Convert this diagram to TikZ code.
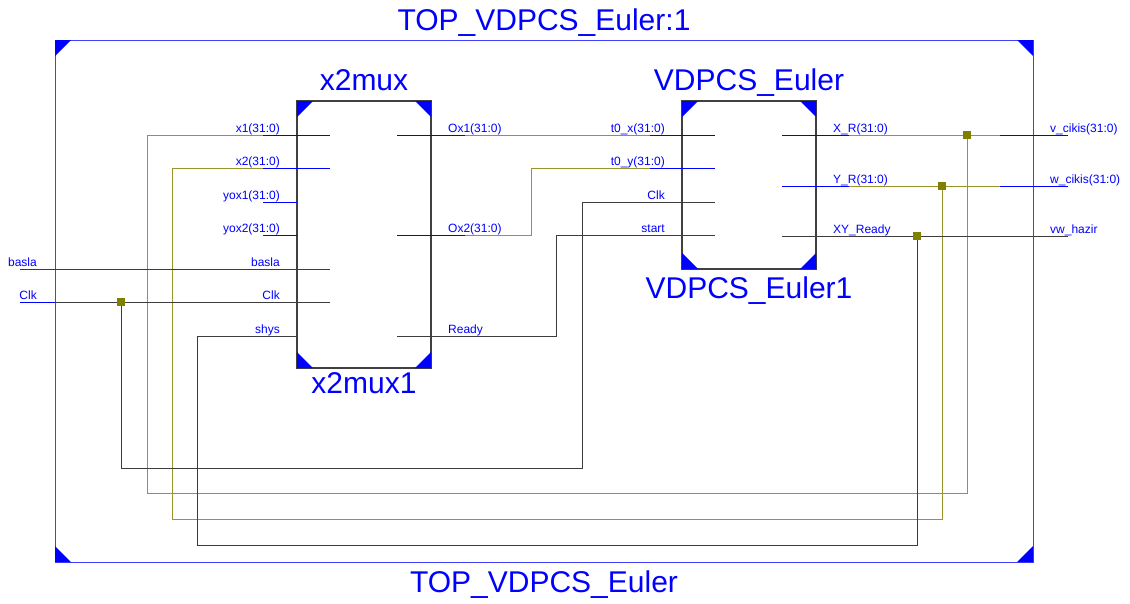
\documentclass[tikz,border=0pt]{standalone}
\usepackage{fontspec}
\setmainfont{Liberation Sans}

\definecolor{schblue}{RGB}{0,0,255}
\definecolor{busolive}{RGB}{150,150,45}
\definecolor{dotolive}{RGB}{128,128,0}
\definecolor{netgray}{RGB}{60,60,60}

\newcommand{\pinfont}{\fontsize{12}{14}\selectfont}
\newcommand{\titlefont}{\fontsize{30}{34}\selectfont}

% 角の三角マーク
\newcommand{\cornermarks}[1]{%
  \fill[schblue] (#1.north west) -- ++(16,0) -- ++(-16,16) -- cycle;
  \fill[schblue] (#1.north east) -- ++(-16,0) -- ++(16,16) -- cycle;
  \fill[schblue] (#1.south west) -- ++(16,0) -- ++(-16,-16) -- cycle;
  \fill[schblue] (#1.south east) -- ++(-16,0) -- ++(16,-16) -- cycle;
}

\tikzset{
  frame/.style={draw=schblue!75, line width=1pt, inner sep=0pt, outer sep=0pt},
  blk/.style={draw=black!75, line width=1.1pt, inner sep=0pt, outer sep=0pt},
  title/.style={font=\titlefont, text=schblue, inner sep=0pt, anchor=base},
  pinlbl/.style={font=\pinfont, text=schblue, inner sep=0pt},
  stub/.style={schblue, line width=1pt},
  bus/.style={busolive, line width=1pt},
  sig/.style={netgray, line width=1pt},
  dot/.style={fill=dotolive, inner sep=0pt, minimum size=8pt},
}

\begin{document}
\begin{tikzpicture}[x=1pt, y=-1pt]
  \useasboundingbox (0,0) rectangle (1130,603);

  % 1. 外枠 TOP_VDPCS_Euler
  \node[frame, minimum width=978pt, minimum height=522pt] (top) at (544,301) {};
  \cornermarks{top}
  \node[title] (toptitle) at (544,30) {TOP\_VDPCS\_Euler:1};
  \node[title] (topname)  at (544,592) {TOP\_VDPCS\_Euler};

  % 2. ブロック x2mux と VDPCS_Euler
  \node[blk, minimum width=134pt, minimum height=267pt] (mux) at (364,234.5) {};
  \node[blk, minimum width=134pt, minimum height=168pt] (vdp) at (749,185) {};
  \cornermarks{mux}
  \cornermarks{vdp}
  \node[title] (muxtype) at (364,90)  {x2mux};
  \node[title] (muxinst) at (364,393) {x2mux1};
  \node[title] (vdptype) at (749,90)  {VDPCS\_Euler};
  \node[title] (vdpinst) at (749,298) {VDPCS\_Euler1};

  % 3. ピンの座標
  % x2mux 左側
  \coordinate (x1o)    at (263,135); \coordinate (x1i)    at (330,135);
  \coordinate (x2o)    at (263,168); \coordinate (x2i)    at (330,168);
  \coordinate (yox1o)  at (263,202); \coordinate (yox1e)  at (297,202);
  \coordinate (yox2o)  at (263,235); \coordinate (yox2e)  at (297,235);
  \coordinate (baslai) at (330,269);
  \coordinate (clki)   at (330,302);
  \coordinate (shyse)  at (297,336);
  % x2mux 右側
  \coordinate (ox1i) at (397,135); \coordinate (ox1o) at (465,135);
  \coordinate (ox2i) at (397,235); \coordinate (ox2o) at (465,235);
  \coordinate (rdyi) at (397,336);
  % VDPCS_Euler 左側
  \coordinate (t0xo) at (650,135); \coordinate (t0xi) at (715,135);
  \coordinate (t0yo) at (650,168); \coordinate (t0yi) at (715,168);
  \coordinate (vclki)  at (715,202);
  \coordinate (starti) at (715,235);
  % VDPCS_Euler 右側
  \coordinate (xri)  at (782,135); \coordinate (xro) at (849,135);
  \coordinate (yri)  at (782,186); \coordinate (yro) at (849,186);
  \coordinate (xyri) at (782,236);
  % 外部ポート
  \coordinate (basla) at (20,269);
  \coordinate (clk)   at (20,302);  \coordinate (clkf)  at (55,302);
  \coordinate (vcik)  at (1068,135); \coordinate (vciko) at (1000,135);
  \coordinate (wcik)  at (1068,186); \coordinate (wciko) at (1000,186);
  \coordinate (vwh)   at (1068,236);
  % 分岐点と折れ点
  \coordinate (jx) at (967,135);
  \coordinate (jy) at (942,186);
  \coordinate (jr) at (917,236);
  \coordinate (jc) at (121,302);
  \coordinate (bx1) at (147,493);
  \coordinate (bx2) at (172,519);
  \coordinate (bsh) at (197,545);
  \coordinate (bck) at (121,468);
  \coordinate (vclko) at (582,202);
  \coordinate (t0yb)  at (531,168);
  \coordinate (stb)   at (556,235);

  % 4. 配線
  \draw[bus] (x1o) -| (bx1) -| (jx);
  \draw[bus] (x2o) -| (bx2) -| (jy);
  \draw[sig] (shyse) -| (bsh) -| (jr);
  \draw[sig] (jc) -- (bck) -| (vclko) -- (vclki);
  \draw[bus] (ox1o) -- (t0xo);
  \draw[bus] (ox2o) -| (t0yb) -- (t0yo);
  \draw[sig] (rdyi) -| (stb) -- (starti);
  \draw[bus] (xro) -- (vciko);
  \draw[bus] (yro) -- (wciko);
  \draw[sig] (xyri) -- (vwh);
  \draw[sig] (basla) -- (baslai);
  \draw[sig] (clkf) -- (clki);

  % ピンのスタブ
  \draw[stub] (x1o) -- (x1i);
  \draw[stub] (x2o) -- (x2i);
  \draw[stub] (yox1o) -- (yox1e);
  \draw[stub] (yox2o) -- (yox2e);
  \draw[stub] (ox1i) -- (ox1o);
  \draw[stub] (ox2i) -- (ox2o);
  \draw[stub] (t0xo) -- (t0xi);
  \draw[stub] (t0yo) -- (t0yi);
  \draw[stub] (xri) -- (xro);
  \draw[stub] (yri) -- (yro);
  \draw[stub] (vciko) -- (vcik);
  \draw[stub] (wciko) -- (wcik);
  \draw[stub] (clk) -- (clkf);

  % 分岐点
  \node[dot] (jxd) at (jx) {};
  \node[dot] (jyd) at (jy) {};
  \node[dot] (jrd) at (jr) {};
  \node[dot] (jcd) at (jc) {};

  % 5. ピン名
  \foreach \n/\t/\y in {lx1/{x1(31:0)}/135, lx2/{x2(31:0)}/168,
      lyox1/{yox1(31:0)}/202, lyox2/{yox2(31:0)}/235,
      lbasla/basla/269, lclk/Clk/302, lshys/shys/336}
    \node[pinlbl, anchor=base east] (\n) at (280,\y-3) {\t};
  \foreach \n/\t/\y in {lox1/{Ox1(31:0)}/135, lox2/{Ox2(31:0)}/235, lrdy/Ready/336}
    \node[pinlbl, anchor=base west] (\n) at (448,\y-3) {\t};
  \foreach \n/\t/\y in {lt0x/{t0\_x(31:0)}/135, lt0y/{t0\_y(31:0)}/168,
      lvclk/Clk/202, lstart/start/235}
    \node[pinlbl, anchor=base east] (\n) at (665,\y-3) {\t};
  \foreach \n/\t/\y in {lxr/{X\_R(31:0)}/135, lyr/{Y\_R(31:0)}/186, lxyr/{XY\_Ready}/236}
    \node[pinlbl, anchor=base west] (\n) at (833,\y-3) {\t};

  % 外部ポート名
  \node[pinlbl, anchor=base east] (pbasla) at (37,266) {basla};
  \node[pinlbl, anchor=base east] (pclk)   at (37,299) {Clk};
  \node[pinlbl, anchor=base west] (pvcik)  at (1050,132) {v\_cikis(31:0)};
  \node[pinlbl, anchor=base west] (pwcik)  at (1050,183) {w\_cikis(31:0)};
  \node[pinlbl, anchor=base west] (pvwh)   at (1050,233) {vw\_hazir};

\end{tikzpicture}
\end{document}
